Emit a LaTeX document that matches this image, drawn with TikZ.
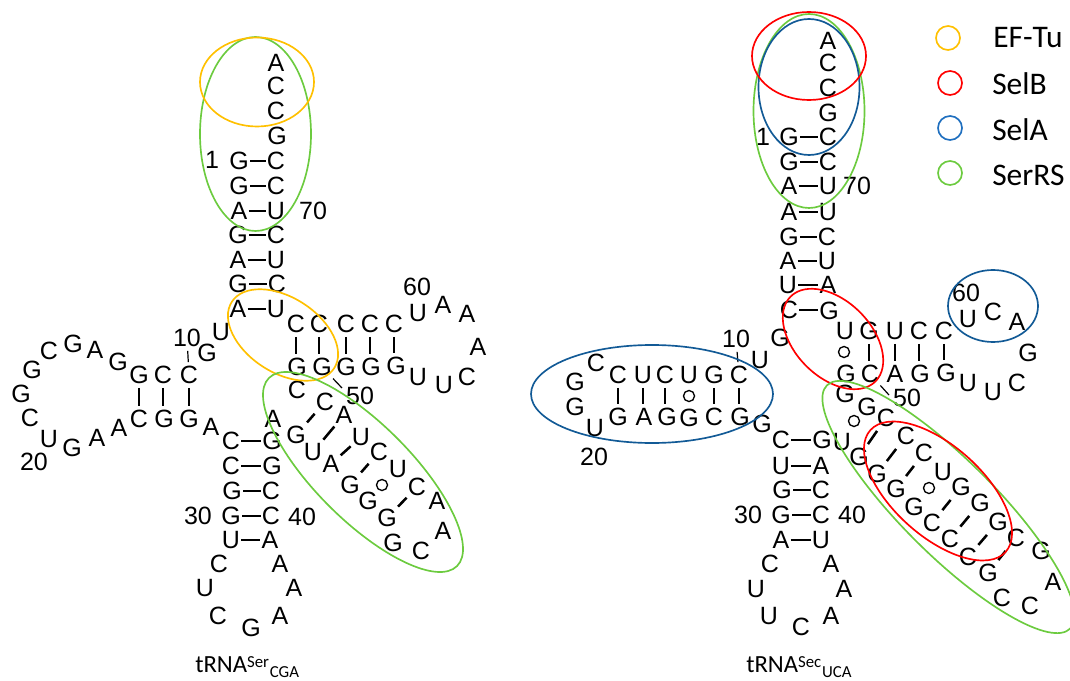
\documentclass[tikz,border=0pt]{standalone}
\usepackage{fontspec}
\setmainfont{Liberation Sans}
\newfontfamily\calfont{Carlito}
\definecolor{cEF}{HTML}{FFC000}
\definecolor{cSelB}{HTML}{FF0000}
\definecolor{cSelA}{HTML}{125A96}
\definecolor{cSelAk}{HTML}{1F6FBF}
\definecolor{cSer}{HTML}{6CCB3F}
\tikzset{
  nt/.style={font=\fontsize{18.75}{20}\selectfont,inner xsep=1pt,inner ysep=3pt,text height=13.4pt,text depth=0pt,outer sep=0pt},
  bp/.style={line width=1.9pt,black},
  tick/.style={line width=0.9pt,black},
  wob/.style={circle,draw=black,line width=1pt,minimum size=8.3pt,inner sep=0pt,outer sep=0pt},
  ring/.style={line width=1.25pt},
  legring/.style={circle,line width=1.25pt,minimum size=18pt,inner sep=0pt},
  legtxt/.style={font=\calfont\fontsize{23.6}{25}\selectfont,anchor=west,inner sep=0pt},
  ttl/.style={font=\calfont\fontsize{18.5}{20}\selectfont,anchor=base west,inner sep=0pt}
}
\newcommand{\hbp}[2]{\draw[bp] (#1) -- (#1 -| #2.west);}
\newcommand{\vbp}[2]{\draw[bp] (#1) -- (#1 |- #2.north);}
\newcommand{\tiltring}[6]{\draw[ring,#1,shift={(#2,#3)},rotate=#4] (0,0) ellipse [x radius=#5,y radius=#6];}
\newcommand{\ttltext}[2]{tRNA\raisebox{3.5pt}{\fontsize{12.6}{12.6}\selectfont #1\hspace{0.6pt}}\raisebox{-3.8pt}{\fontsize{12.6}{12.6}\selectfont #2}}
\begin{document}
\begin{tikzpicture}[x=0.75pt,y=-0.75pt]
\clip (0,0) rectangle (1070,681);
% ---------- left molecule: letters
\foreach \n/\x/\y/\t in {
 lt1/276/63/A,lt2/276/86/C,lt3/276/111/C,lt4/277/136/G,
 la1/239/161/G,la2/239/186/G,la3/239/211/A,la4/238/235/G,la5/238/260/A,la6/238/284/G,la7/238/309/A,
 lb1/276/161/C,lb2/276/186/C,lb3/276/211/U,lb4/276/235/C,lb5/276/260/U,lb6/277/284/C,lb7/276/309/U,
 lc1/296/324/C,lc2/319/324/C,lc3/346/324/C,lc4/370/324/C,lc5/394/324/C,
 ld1/297/367/G,ld2/322/367/G,ld3/346/367/G,ld4/371/367/G,ld5/396/366/G,
 lx1/418/313/U,lx2/443/305/A,lx3/467/314/A,lx4/478/347/A,lx5/467/377/C,lx6/444/385/U,lx7/418/377/U,
 ly1/221/332/U,ly2/207/353/G,
 le1/139/375/G,le2/163/375/C,le3/189/375/C,
 lf1/139/419/C,lf2/164/419/G,lf3/189/419/G,
 lz1/118/362/G,lz2/95/350/A,lz3/73/344/G,lz4/49/351/C,lz5/32/370/G,lz6/21/394/G,lz7/30/418/C,lz8/49/439/U,lz9/72/448/G,lz10/97/438/A,lz11/119/428/A,
 lq/211/427/A,
 lg1/231/441/C,lg2/231/466/C,lg3/232/491/G,lg4/231/516/G,lg5/231/540/U,
 lh1/272/441/G,lh2/272/466/G,lh3/271/491/C,lh4/271/516/C,lh5/270/540/A,
 lk1/219/564/C,lk2/205/588/U,lk3/218/616/C,lk4/251/628/G,lk5/280/616/A,lk6/294/588/A,lk7/280/564/A,
 lv0/273/419/A,lv00/297/390/C,
 lm1/296/435/G,lm2/313/452/U,lm3/331/464/A,lm4/350/485/G,lm5/368/501/G,lm6/387/518/G,lm7/393/543/G,
 lp1/325/402/C,lp2/344/415/A,lp3/361/437/U,lp4/379/452/C,lp5/398/469/U,lp6/417/487/C,lp7/437/501/A,lp8/443/531/A,lp9/421/551/C}
 {\node[nt] (\n) at (\x,\y) {\t};}
% left numbers
\foreach \n/\x/\y/\t in {ln1/212/160/1,ln70/313/211/70,ln60/417/287/60,ln10/187/338/10,ln50/360/396/50,ln20/34/462/20,ln30/198/516/30,ln40/302/517/40}
 {\node[nt] (\n) at (\x,\y) {\t};}
% left base pairs
\foreach \i in {1,...,7}{\hbp{la\i}{lb\i}}
\foreach \i in {1,...,5}{\vbp{lc\i}{ld\i}}
\foreach \i in {1,...,3}{\vbp{le\i}{lf\i}}
\foreach \i in {1,...,5}{\hbp{lg\i}{lh\i}}
\foreach \a/\b in {lm1/lp1,lm2/lp2,lm3/lp3,lm4/lp4,lm6/lp6}{\draw[bp] (\a) -- (\b);}
\node[wob] (lw) at (382,485) {};
\draw[tick] (ln10) -- (le3);
\coordinate (lt50) at (342,388);
\draw[tick] (ld2) -- (lt50);
% ---------- right molecule: letters
\foreach \n/\x/\y/\t in {
 rt1/828/41/A,rt2/828/63/C,rt3/828/88/C,rt4/828/113/G,
 ra1/789/137/G,ra2/789/162/G,ra3/789/186/A,ra4/789/212/A,ra5/789/237/G,ra6/788/261/A,ra7/788/285/U,ra8/789/310/C,
 rb1/828/137/C,rb2/828/162/C,rb3/828/186/U,rb4/828/212/U,rb5/827/237/C,rb6/827/261/U,rb7/828/285/A,rb8/829/311/G,
 rc1/845/331/U,rc2/869/331/G,rc3/895/331/U,rc4/919/331/C,rc5/944/331/C,
 rd1/846/374/G,rd2/870/374/C,rd3/895/374/A,rd4/920/374/G,rd5/946/373/G,
 rx1/968/319/U,rx2/993/312/C,rx3/1017/322/A,rx4/1028/353/G,rx5/1017/383/C,rx6/993/392/U,rx7/968/383/U,
 ry1/780/338/G,ry2/760/360/U,
 re1/618/375/C,re2/643/375/U,re3/665/375/C,re4/689/375/U,re5/714/375/G,re6/739/375/C,
 rf1/618/417/G,rf2/644/417/A,rf3/667/417/G,rf4/689/418/G,rf5/714/417/C,rf6/740/417/G,
 rz1/596/363/C,rz2/575/382/G,rz3/575/407/G,rz4/595/428/U,
 rq/762/424/G,
 rg1/781/440/C,rg2/781/466/U,rg3/782/490/G,rg4/781/515/G,rg5/781/540/A,
 rh1/822/440/G,rh2/821/466/A,rh3/821/490/C,rh4/821/515/C,rh5/821/540/U,
 rk1/770/564/C,rk2/756/589/U,rk3/769/616/U,rk4/801/627/C,rk5/831/616/A,rk6/844/589/A,rk7/831/564/A,
 rv1/845/394/G,rv2/842/442/U,
 rm1/859/457/G,rm2/877/474/G,rm3/896/489/G,rm4/914/507/G,rm5/932/523/C,rm6/950/539/C,rm7/968/557/C,rm8/988/573/G,rm9/1002/598/C,
 rv3/867/407/G,
 rp1/886/418/C,rp2/906/436/C,rp3/924/453/C,rp4/943/472/U,rp5/961/487/G,rp6/980/503/G,rp7/998/522/G,rp8/1016/538/C,rp9/1041/551/G,rp10/1053/582/A,rp11/1030/606/C}
 {\node[nt] (\n) at (\x,\y) {\t};}
\foreach \n/\x/\y/\t in {rn1/763/137/1,rn70/857/186/70,rn60/966/293/60,rn10/736/339/10,rn50/907/398/50,rn20/594/457/20,rn30/748/515/30,rn40/852/515/40}
 {\node[nt] (\n) at (\x,\y) {\t};}
% right base pairs
\foreach \i in {1,...,8}{\hbp{ra\i}{rb\i}}
\foreach \i in {2,...,5}{\vbp{rc\i}{rd\i}}
\foreach \i in {1,2,3,5,6}{\vbp{re\i}{rf\i}}
\foreach \i in {1,...,5}{\hbp{rg\i}{rh\i}}
\foreach \a/\b in {rm1/rp1,rm2/rp2,rm3/rp3,rm5/rp5,rm6/rp6,rm7/rp7,rm8/rp8}{\draw[bp] (\a) -- (\b);}
\node[wob] (rw1) at (844,352) {};
\node[wob] (rw2) at (689,396) {};
\node[wob] (rw3) at (854,421) {};
\node[wob] (rw4) at (929,488) {};
\draw[tick] (rn10) -- (re6);
\coordinate (rt50) at (889,395);
\draw[tick] (rd2) -- (rt50);
% titles
\node[ttl] (ltitle) at (195,672) {\ttltext{Ser}{CGA}};
\node[ttl] (rtitle) at (746,672) {\ttltext{Sec}{UCA}};
% legend
\node[legring,draw=cEF] (k1) at (948,38) {};
\node[legring,draw=cSelB] (k2) at (950,83) {};
\node[legring,draw=cSelAk] (k3) at (950,128) {};
\node[legring,draw=cSer] (k4) at (950,173) {};
\node[legtxt] (k1t) at (993,38) {EF-Tu};
\node[legtxt] (k2t) at (992,84) {SelB};
\node[legtxt] (k3t) at (992,130) {SelA};
\node[legtxt] (k4t) at (992,175) {SerRS};
% footprints, left
\tiltring{cSer}{255.5}{134}{0}{55.5}{97}
\tiltring{cEF}{257}{82}{0}{57}{44.5}
\tiltring{cEF}{283}{335}{-33}{61}{37.5}
\tiltring{cSer}{363}{472}{-45}{133}{48}
% footprints, right
\tiltring{cSer}{809}{111}{0}{55.5}{97}
\tiltring{cSelA}{809}{87}{0}{50.5}{68}
\tiltring{cSelB}{809}{56}{0}{57}{44}
\tiltring{cSelB}{833}{339}{-45}{60}{38}
\tiltring{cSelA}{993}{306}{0}{45}{36}
\tiltring{cSelA}{652}{394}{0}{121}{49}
\tiltring{cSer}{948.5}{507}{-45}{172}{47}
\tiltring{cSelB}{938}{491}{-42}{91}{45}
\end{tikzpicture}
\end{document}
